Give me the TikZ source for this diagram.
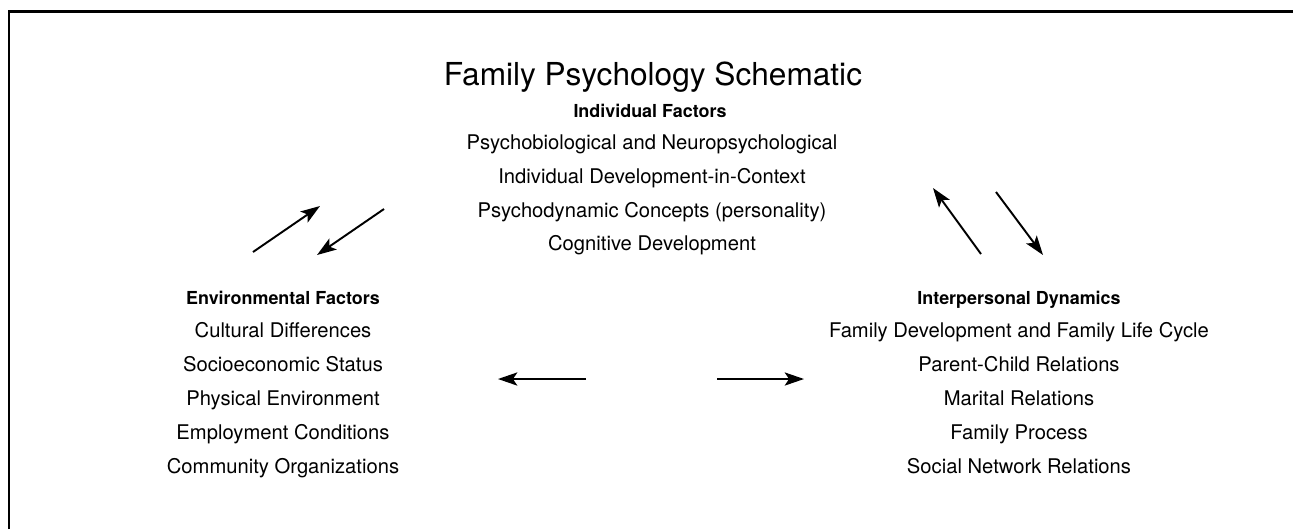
\documentclass[tikz,border=0pt]{standalone}
\usepackage{fontspec}
\setmainfont{TeX Gyre Heros}
\usetikzlibrary{positioning,arrows.meta}

\begin{document}
\begin{tikzpicture}[
    x=0.02cm, y=-0.02cm,
    title/.style={font=\fontsize{18}{20}\selectfont, inner sep=0pt, anchor=base},
    head/.style={font=\fontsize{10.2}{12}\selectfont\bfseries, inner sep=0pt, anchor=base},
    item/.style={font=\fontsize{11.5}{14}\selectfont, inner sep=0pt, anchor=base},
    link/.style={-{Stealth[length=11pt,width=7.5pt,inset=2.5pt]}, line width=1.1pt},
    frame/.style={line width=1.7pt}
]
\useasboundingbox (0,0) rectangle (1293,529);

% Frame (left and top only)
\draw[frame] (9,529) -- (9,11) -- (1293,11);

% Title
\node[title] (ttl) at (653,85.5) {Family Psychology Schematic};

% Individual factors
\node[head] (ind) at (650,117) {Individual Factors};
\node[item] (ind1) at (652,149.5) {Psychobiological and Neuropsychological};
\node[item] (ind2) at (652,183.3) {Individual Development-in-Context};
\node[item] (ind3) at (652,217.1) {Psychodynamic Concepts (personality)};
\node[item] (ind4) at (652,250.9) {Cognitive Development};

% Environmental factors
\node[head] (env) at (283,304.5) {Environmental Factors};
\node[item] (env1) at (283,337.5) {Cultural Differences};
\node[item] (env2) at (283,371.6) {Socioeconomic Status};
\node[item] (env3) at (283,405.7) {Physical Environment};
\node[item] (env4) at (283,439.8) {Employment Conditions};
\node[item] (env5) at (283,473.9) {Community Organizations};

% Interpersonal dynamics
\node[head] (ipd) at (1019,304.5) {Interpersonal Dynamics};
\node[item] (ipd1) at (1019,337.5) {Family Development and Family Life Cycle};
\node[item] (ipd2) at (1019,371.6) {Parent-Child Relations};
\node[item] (ipd3) at (1019,405.7) {Marital Relations};
\node[item] (ipd4) at (1019,439.8) {Family Process};
\node[item] (ipd5) at (1019,473.9) {Social Network Relations};

% Arrow end points
\coordinate (a1s) at (253,252);
\coordinate (a1e) at (320,206);
\coordinate (a2s) at (384,209);
\coordinate (a2e) at (317,255);
\coordinate (b1s) at (981,254);
\coordinate (b1e) at (933,188);
\coordinate (b2s) at (996,192);
\coordinate (b2e) at (1043,255);
\coordinate (c1s) at (586,379);
\coordinate (c1e) at (498,379);
\coordinate (c2s) at (717,379);
\coordinate (c2e) at (804,379);

% Arrows
\draw[link] (a1s) -- (a1e);
\draw[link] (a2s) -- (a2e);
\draw[link] (b1s) -- (b1e);
\draw[link] (b2s) -- (b2e);
\draw[link] (c1s) -- (c1e);
\draw[link] (c2s) -- (c2e);

\end{tikzpicture}
\end{document}
